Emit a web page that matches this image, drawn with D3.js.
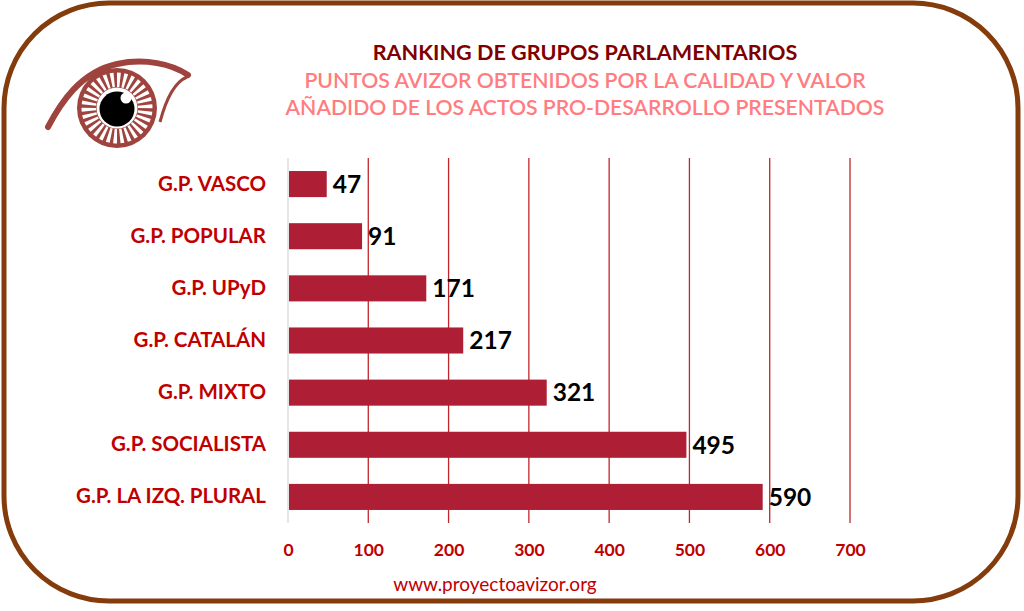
<!DOCTYPE html>
<html>
<head>
<meta charset="utf-8">
<script src="https://cdn.jsdelivr.net/npm/d3@7"></script>
<style>
  body { margin: 0; background: #fff; }
  text { font-family: Lato, "Open Sans", sans-serif; }
</style>
</head>
<body>
<div id="chart"></div>
<script>
// data
const groups = ["G.P. VASCO", "G.P. POPULAR", "G.P. UPyD", "G.P. CATALÁN", "G.P. MIXTO", "G.P. SOCIALISTA", "G.P. LA IZQ. PLURAL"];
const points = [47, 91, 171, 217, 321, 495, 590];
const ticks = [0, 100, 200, 300, 400, 500, 600, 700];
const titleLines = ["RANKING DE GRUPOS PARLAMENTARIOS",
                    "PUNTOS AVIZOR OBTENIDOS POR LA CALIDAD Y VALOR",
                    "AÑADIDO DE LOS ACTOS PRO-DESARROLLO PRESENTADOS"];

const width = 1024, height = 611;
const margin = {top: 158, right: 174, bottom: 88, left: 288};

const svg = d3.select("#chart").append("svg")
    .attr("width", width)
    .attr("height", height);

// frame
svg.append("rect")
    .attr("x", 4).attr("y", 3)
    .attr("width", 1014).attr("height", 598)
    .attr("rx", 105).attr("ry", 105)
    .attr("fill", "#fff")
    .attr("stroke", "#843c0c")
    .attr("stroke-width", 5);

// title
const titleColors = ["#7f0000", "#ff7c80", "#ff7c80"];
const titleY = [60, 88, 115];
const titleSize = [21.6, 21.2, 21.2];
titleLines.forEach((t, i) => {
    svg.append("text")
        .attr("x", 585).attr("y", titleY[i])
        .attr("text-anchor", "middle")
        .attr("font-size", titleSize[i])
        .attr("font-weight", i === 0 ? 700 : 600)
        .attr("fill", titleColors[i])
        .text(t);
});

// eye logo
const eye = svg.append("g");
const eyeColor = "#9e433e";
const cx = 117, cy = 108;
eye.append("path")
    .attr("d", "M48,127 C60,104 80,72 117,64 C145,58 172,64 188,75")
    .attr("fill", "none").attr("stroke", eyeColor)
    .attr("stroke-width", 6).attr("stroke-linecap", "round");
eye.append("path")
    .attr("d", "M187,77 Q170,84 160,122")
    .attr("fill", "none").attr("stroke", eyeColor)
    .attr("stroke-width", 3);
eye.append("circle").attr("cx", cx).attr("cy", cy).attr("r", 40).attr("fill", eyeColor);
const rays = d3.range(30);
const rayArc = d3.arc().innerRadius(21).outerRadius(35.5);
eye.selectAll(".ray").data(rays).enter().append("path")
    .attr("transform", "translate(" + cx + "," + cy + ")")
    .attr("d", d => rayArc({startAngle: d * 2 * Math.PI / 30, endAngle: d * 2 * Math.PI / 30 + 0.11}))
    .attr("fill", "#fff");
eye.append("circle").attr("cx", cx).attr("cy", cy).attr("r", 20.5).attr("fill", "#fff");
eye.append("circle").attr("cx", cx).attr("cy", cy + 1).attr("r", 17.5).attr("fill", "#000");
eye.append("circle").attr("cx", cx + 9).attr("cy", cy - 10).attr("r", 5.5).attr("fill", "#fff");

// chart
const w = width - margin.left - margin.right;
const h = 365;

const x = d3.scaleLinear().domain([0, 700]).range([0, w]);
const y = d3.scaleBand().domain(groups).range([0, h]).paddingInner(0.5).paddingOuter(0.25);

const g = svg.append("g")
    .attr("transform", "translate(" + margin.left + "," + margin.top + ")");

g.selectAll(".grid")
    .data(ticks)
    .enter().append("line")
    .attr("x1", d => x(d)).attr("x2", d => x(d))
    .attr("y1", 0).attr("y2", h)
    .attr("stroke", d => d === 0 ? "#d9d9d9" : "#c0262b")
    .attr("stroke-width", 1.3);

g.selectAll(".bar")
    .data(points)
    .enter().append("rect")
    .attr("x", x(0) + 1)
    .attr("y", (d, i) => y(groups[i]))
    .attr("width", d => x(d) - x(0))
    .attr("height", y.bandwidth())
    .attr("fill", "#ae1f35");

g.selectAll(".val")
    .data(points)
    .enter().append("text")
    .attr("x", d => x(d) + 7)
    .attr("y", (d, i) => y(groups[i]) + y.bandwidth() / 2)
    .attr("dy", "0.36em")
    .attr("font-size", 24.5)
    .attr("font-weight", 700)
    .attr("fill", "#000")
    .text(d => d);

const yAxis = g.append("g").call(d3.axisLeft(y).tickSize(0).tickPadding(22));
yAxis.select(".domain").remove();
yAxis.selectAll("text")
    .attr("font-size", 20.5)
    .attr("font-weight", 700)
    .attr("fill", "#c00000")
    .style("font-family", "Lato, sans-serif");

const xAxis = g.append("g")
    .attr("transform", "translate(0," + h + ")")
    .call(d3.axisBottom(x).tickValues(ticks).tickSize(0).tickPadding(21));
xAxis.select(".domain").remove();
xAxis.selectAll("text")
    .attr("font-size", 17.5)
    .attr("font-weight", 700)
    .attr("fill", "#c00000")
    .style("font-family", "Lato, sans-serif");

// footer
svg.append("text")
    .attr("x", 495).attr("y", 591)
    .attr("text-anchor", "middle")
    .attr("font-size", 19)
    .attr("fill", "#c00000")
    .text("www.proyectoavizor.org");
</script>
</body>
</html>
